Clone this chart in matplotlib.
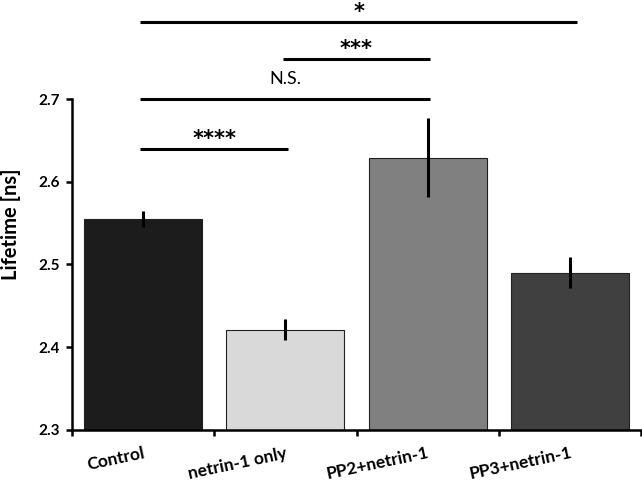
import matplotlib
matplotlib.use("Agg")
import matplotlib.pyplot as plt
import numpy as np

categories = ["Control", "netrin-1 only", "PP2+netrin-1", "PP3+netrin-1"]
lifetime = [2.555, 2.421, 2.629, 2.490]
sem = [0.010, 0.013, 0.048, 0.019]
bar_colors = ["#1c1c1c", "#d9d9d9", "#808080", "#404040"]

# (start group, end group, height, label)
comparisons = [
    (0, 1, 2.639, "****"),
    (0, 2, 2.700, "N.S."),
    (1, 2, 2.748, "***"),
    (0, 3, 2.793, "*"),
]

plt.rcParams["font.family"] = ["Lato", "DejaVu Sans"]

fig = plt.figure(figsize=(6.42, 4.87), dpi=100)
ax = fig.add_axes([72 / 642, 1 - 429.7 / 487, 569 / 642, (429.7 - 99) / 487])

x = np.arange(len(categories))
ax.bar(x, lifetime, width=0.83, color=bar_colors, edgecolor="#222222",
       linewidth=0.8, zorder=2)
ax.errorbar(x, lifetime, yerr=sem, fmt="none", ecolor="black",
            elinewidth=2.2, capsize=0, zorder=3)

ax.set_xlim(-0.5, 3.5)
ax.set_ylim(2.3, 2.7)
ax.set_yticks([2.3, 2.4, 2.5, 2.6, 2.7])
ax.set_yticklabels(["2.3", "2.4", "2.5", "2.6", "2.7"], fontsize=11,
                   fontweight="bold")
ax.set_xticks(np.arange(-0.5, 4.0, 1.0))
ax.set_xticklabels([])
ax.set_xticks(x, minor=True)
ax.set_xticklabels(categories, minor=True, rotation=12, ha="right",
                   rotation_mode="anchor", fontsize=12.5, fontweight="bold")
ax.tick_params(axis="x", which="minor", length=0, pad=11)
ax.tick_params(axis="both", which="major", direction="out", length=4,
               width=1.8, color="black", pad=5)
ax.set_ylabel("Lifetime [ns]", fontsize=14.5, fontweight="bold")
ax.yaxis.set_label_coords(-0.09, 0.622)

for side in ["top", "right"]:
    ax.spines[side].set_visible(False)
for side in ["left", "bottom"]:
    ax.spines[side].set_linewidth(1.8)

for i, j, h, label in comparisons:
    x0 = x[i] - 0.02
    x1 = x[j] + (0.05 if j == 3 else 0.02)
    ax.plot([x0, x1], [h, h], color="black", linewidth=2.2, clip_on=False,
            solid_capstyle="butt")
    if label == "N.S.":
        ax.annotate(label, ((x0 + x1) / 2, h), xytext=(0, 10.5),
                    textcoords="offset points", ha="center", va="baseline",
                    fontsize=13, annotation_clip=False)
    else:
        ax.annotate(label, ((x0 + x1) / 2, h), xytext=(0, 3),
                    textcoords="offset points", ha="center", va="baseline",
                    fontsize=15, fontweight="bold", annotation_clip=False,
                    family="DejaVu Sans")

fig.savefig("out.png", dpi=100)
plt.close(fig)
